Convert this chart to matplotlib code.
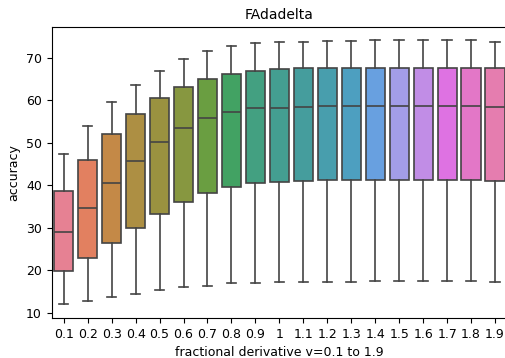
import matplotlib
matplotlib.use("Agg")
import matplotlib.pyplot as plt
import seaborn as sns

labels = ["0.1", "0.2", "0.3", "0.4", "0.5", "0.6", "0.7", "0.8", "0.9", "1",
          "1.1", "1.2", "1.3", "1.4", "1.5", "1.6", "1.7", "1.8", "1.9"]
whislo = [12.0, 12.8, 13.8, 14.5, 15.3, 16.0, 16.4, 16.9, 17.1, 17.2,
          17.2, 17.3, 17.3, 17.5, 17.5, 17.5, 17.5, 17.5, 17.3]
q1 = [19.9, 22.9, 26.4, 30.0, 33.2, 36.0, 38.2, 39.6, 40.5, 40.8,
      41.1, 41.3, 41.3, 41.3, 41.3, 41.3, 41.3, 41.3, 41.1]
med = [29.0, 34.7, 40.6, 45.8, 50.3, 53.4, 55.8, 57.2, 58.1, 58.2,
       58.4, 58.6, 58.6, 58.6, 58.6, 58.7, 58.7, 58.6, 58.4]
q3 = [38.7, 45.9, 52.0, 56.8, 60.5, 63.1, 65.0, 66.2, 67.0, 67.3,
      67.6, 67.7, 67.7, 67.7, 67.6, 67.7, 67.7, 67.7, 67.5]
whishi = [47.3, 54.0, 59.7, 63.7, 67.0, 69.8, 71.6, 72.8, 73.6, 73.7,
          73.8, 74.0, 74.0, 74.1, 74.1, 74.1, 74.1, 74.1, 73.8]

# box stats for bxp
stats = []
for i in range(len(labels)):
    stats.append({"whislo": whislo[i], "q1": q1[i], "med": med[i],
                  "q3": q3[i], "whishi": whishi[i], "fliers": []})

colors = sns.color_palette("husl", len(labels), desat=0.75)
line_col = "#444444"

fig = plt.figure(figsize=(5.05, 3.58), dpi=100)
ax = fig.add_axes([0.1024, 0.112, 0.9016, 0.813])
bp = ax.bxp(stats, positions=range(len(labels)), widths=0.8, patch_artist=True,
            showfliers=False,
            boxprops=dict(edgecolor=line_col, linewidth=1.2),
            whiskerprops=dict(color=line_col, linewidth=1.2),
            capprops=dict(color=line_col, linewidth=1.2),
            medianprops=dict(color=line_col, linewidth=1.2))
for patch, c in zip(bp["boxes"], colors):
    patch.set_facecolor(c)
for cap in bp["caps"]:
    x = cap.get_xdata()
    m = (x[0] + x[1]) / 2
    cap.set_xdata([m - 0.2, m + 0.2])

ax.set_xlim(-0.5, len(labels) - 0.5)
ax.set_ylim(8.8, 77.3)
ax.set_xticks(range(len(labels)))
ax.set_xticklabels(labels, fontsize=9)
ax.set_yticks([10, 20, 30, 40, 50, 60, 70])
ax.tick_params(axis="y", labelsize=9)
ax.set_xlabel("fractional derivative v=0.1 to 1.9", fontsize=9)
ax.set_ylabel("accuracy", fontsize=9)
ax.set_title("FAdadelta", fontsize=10)
fig.savefig("out.png", dpi=100)
